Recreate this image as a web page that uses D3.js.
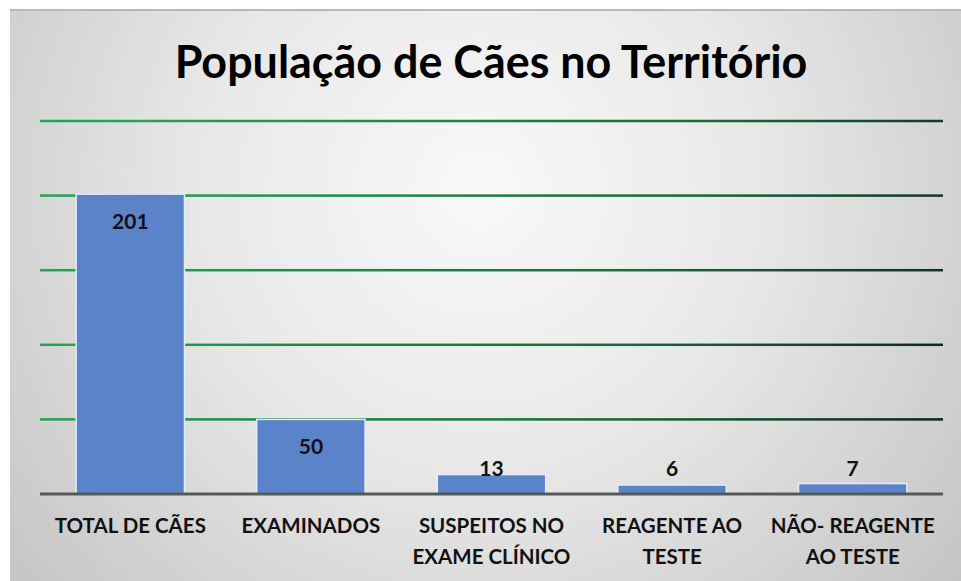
<!DOCTYPE html>
<html>
<head>
<meta charset="utf-8">
<script src="https://cdn.jsdelivr.net/npm/d3@7"></script>
<style>
  body { margin: 0; background: #fff; }
  text { font-family: Lato, "Open Sans", sans-serif; }
</style>
</head>
<body>
<div id="chart"></div>
<script>
var categories = [
    ["TOTAL DE CÃES"],
    ["EXAMINADOS"],
    ["SUSPEITOS NO", "EXAME CLÍNICO"],
    ["REAGENTE AO", "TESTE"],
    ["NÃO- REAGENTE", "AO TESTE"]
];
var values = [201, 50, 13, 6, 7];
var gridTicks = [50, 100, 150, 200, 250];

var svgWidth = 961;
var svgHeight = 581;

var margin = { top: 121, right: 18, bottom: 87, left: 40 };
var width = svgWidth - margin.left - margin.right;
var height = svgHeight - margin.top - margin.bottom;

var svg = d3.select("#chart")
    .append("svg")
    .attr("width", svgWidth)
    .attr("height", svgHeight);

var defs = svg.append("defs");

var bg = defs.append("radialGradient")
    .attr("id", "bg")
    .attr("gradientUnits", "userSpaceOnUse")
    .attr("cx", 480).attr("cy", 190).attr("r", 620);
bg.append("stop").attr("offset", "0%").attr("stop-color", "#f9f9f9");
bg.append("stop").attr("offset", "45%").attr("stop-color", "#e8e8e8");
bg.append("stop").attr("offset", "100%").attr("stop-color", "#c4c4c4");

var gridGrad = defs.append("linearGradient")
    .attr("id", "gridGrad")
    .attr("gradientUnits", "userSpaceOnUse")
    .attr("x1", margin.left).attr("y1", margin.top)
    .attr("x2", margin.left + width).attr("y2", margin.top + height);
gridGrad.append("stop").attr("offset", "0%").attr("stop-color", "#22a552");
gridGrad.append("stop").attr("offset", "55%").attr("stop-color", "#176b3a");
gridGrad.append("stop").attr("offset", "100%").attr("stop-color", "#0a0f0b");

svg.append("rect")
    .attr("x", 10).attr("y", 9)
    .attr("width", svgWidth - 10).attr("height", svgHeight - 9)
    .attr("fill", "url(#bg)");

svg.append("line")
    .attr("x1", 10).attr("x2", svgWidth)
    .attr("y1", 10).attr("y2", 10)
    .attr("stroke", "#b8b8b8").attr("stroke-width", 2);

var title = svg.append("text")
    .attr("x", 491)
    .attr("y", 78)
    .attr("text-anchor", "middle")
    .attr("font-size", 40)
    .attr("font-weight", "bold")
    .attr("fill", "#000")
    .text("População de Cães no Território");
var tw = title.node().getComputedTextLength();
title.attr("font-size", 40 * 633 / tw);

var chartGroup = svg.append("g")
    .attr("transform", `translate(${margin.left}, ${margin.top})`);

var xBandScale = d3.scaleBand()
    .domain(d3.range(values.length))
    .range([0, width])
    .paddingInner(0.4)
    .paddingOuter(0.2);

var yLinearScale = d3.scaleLinear()
    .domain([0, 250])
    .range([height, 0]);

chartGroup.selectAll(".grid")
    .data(gridTicks)
    .enter()
    .append("rect")
    .attr("class", "grid")
    .attr("x", 0)
    .attr("width", width)
    .attr("y", d => yLinearScale(d) - 1.25)
    .attr("height", 2.5)
    .attr("fill", "url(#gridGrad)");

chartGroup.selectAll(".bar")
    .data(values)
    .enter()
    .append("rect")
    .attr("class", "bar")
    .attr("x", (d, i) => xBandScale(i))
    .attr("y", d => yLinearScale(d))
    .attr("width", xBandScale.bandwidth())
    .attr("height", d => height - yLinearScale(d))
    .attr("fill", "#5b83c9")
    .attr("stroke", "#e4ecf8")
    .attr("stroke-width", 1.5);

chartGroup.append("line")
    .attr("x1", 0).attr("x2", width)
    .attr("y1", height).attr("y2", height)
    .attr("stroke", "#555a58")
    .attr("stroke-width", 3);

chartGroup.selectAll(".value")
    .data(values)
    .enter()
    .append("text")
    .attr("class", "value")
    .attr("x", (d, i) => xBandScale(i) + xBandScale.bandwidth() / 2)
    .attr("y", function (d) {
        var barH = height - yLinearScale(d);
        return barH > 40 ? yLinearScale(d) + 35 : height - 18;
    })
    .attr("text-anchor", "middle")
    .attr("font-size", 21)
    .attr("font-weight", "bold")
    .attr("fill", "#111")
    .text(d => d);

var labelGroup = chartGroup.selectAll(".cat")
    .data(categories)
    .enter()
    .append("text")
    .attr("class", "cat")
    .attr("x", (d, i) => xBandScale(i) + xBandScale.bandwidth() / 2)
    .attr("y", height + 39)
    .attr("text-anchor", "middle")
    .attr("font-size", 20.5)
    .attr("font-weight", "bold")
    .attr("fill", "#111");

labelGroup.selectAll("tspan")
    .data(d => d)
    .enter()
    .append("tspan")
    .attr("x", function () { return d3.select(this.parentNode).attr("x"); })
    .attr("dy", (d, i) => i === 0 ? 0 : 31)
    .text(d => d);
</script>
</body>
</html>
